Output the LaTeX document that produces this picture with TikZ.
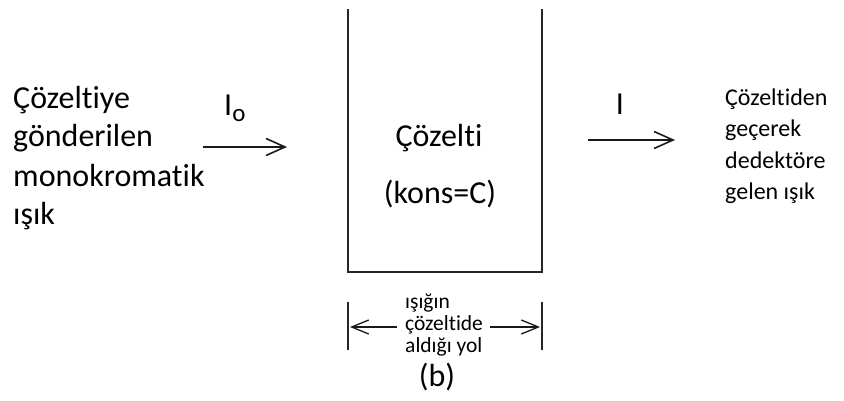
\documentclass[tikz,border=0pt]{standalone}
\usepackage{fontspec}
\setmainfont{Carlito}[Ligatures=NoCommon]
\usetikzlibrary{arrows.meta}
\begin{document}
\begin{tikzpicture}[x=1pt,y=-1pt,
  wall/.style={line width=2pt, draw=black!85},
  ray/.style={line width=1.6pt, draw=black!90,
    -{Straight Barb[length=19pt,width=17pt,line width=1.6pt]}},
  pathray/.style={line width=1.3pt, draw=black!90,
    -{Straight Barb[length=17pt,width=14pt,line width=1.3pt]}},
  tick/.style={line width=1.6pt, draw=black!85},
  big/.style={font=\fontsize{32}{38}\selectfont, inner sep=0pt},
  mid/.style={font=\fontsize{24}{30}\selectfont, inner sep=0pt},
  small/.style={font=\fontsize{21.5}{22}\selectfont, inner sep=0pt}]
\useasboundingbox (0,0) rectangle (844,401);

% open-topped cuvette
\coordinate (tl) at (348,9);
\coordinate (bl) at (348,272);
\coordinate (br) at (542,272);
\coordinate (tr) at (542,9);
\draw[wall] (tl) -- (bl) -- (br) -- (tr);

\node[big, anchor=base] (sol)  at (439,147) {Çözelti};
\node[big, anchor=base] (conc) at (440,204) {(kons=C)};

% incoming light
\node[big, anchor=base west] (in1) at (13,109) {Çözeltiye};
\node[big, anchor=base west] (in2) at (13,147) {gönderilen};
\node[big, anchor=base west] (in3) at (13,186) {monokromatik};
\node[big, anchor=base west] (in4) at (13,225) {ışık};

\node[big, anchor=base west] (I0) at (224,116) {I\raisebox{-6pt}{\fontsize{25}{25}\selectfont o}};
\coordinate (r1s) at (203,147);
\coordinate (r1e) at (287,147);
\draw[ray] (r1s) -- (r1e);

% transmitted light
\node[big, anchor=base] (I1) at (620,115) {I};
\coordinate (r2s) at (588,140);
\coordinate (r2e) at (675,140);
\draw[ray] (r2s) -- (r2e);

\node[mid, anchor=base west] (out1) at (725,106) {Çözeltiden};
\node[mid, anchor=base west] (out2) at (725,137) {geçerek};
\node[mid, anchor=base west] (out3) at (725,168) {dedektöre};
\node[mid, anchor=base west] (out4) at (725,200) {gelen ışık};

% path length marker
\coordinate (t1a) at (348,302);
\coordinate (t1b) at (348,350);
\coordinate (t2a) at (542,302);
\coordinate (t2b) at (542,350);
\draw[tick] (t1a) -- (t1b);
\draw[tick] (t2a) -- (t2b);

\coordinate (pl) at (397,327);
\coordinate (plt) at (350,327);
\coordinate (pr) at (490,327);
\coordinate (prt) at (540,327);
\draw[pathray] (pl) -- (plt);
\draw[pathray] (pr) -- (prt);

\node[small, anchor=base west] (p1) at (405,308) {ışığın};
\node[small, anchor=base west] (p2) at (405,330) {çözeltide};
\node[small, anchor=base west] (p3) at (405,352) {aldığı yol};

\node[big, anchor=base] (cap) at (437,386) {(b)};
\end{tikzpicture}
\end{document}
